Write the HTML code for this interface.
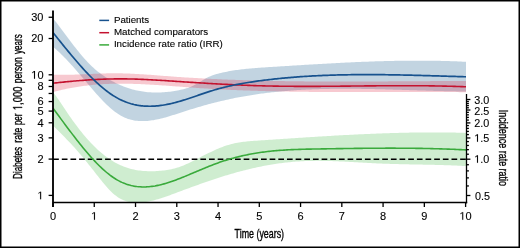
<!DOCTYPE html>
<html><head><meta charset="utf-8"><style>
html,body{margin:0;padding:0;background:#fff;}
body{width:520px;height:248px;overflow:hidden;font-family:"Liberation Sans",sans-serif;}
svg{display:block;will-change:transform;}
</style></head><body>
<svg width="520" height="248" viewBox="0 0 520 248" xmlns="http://www.w3.org/2000/svg">
<defs><clipPath id="pc"><rect x="53" y="8" width="413" height="194.6"/></clipPath></defs><rect x="0.75" y="0.75" width="518.5" height="246.5" fill="none" stroke="#000" stroke-width="1.5"/><g clip-path="url(#pc)"><path d="M53.00,18.29L54.50,20.17L56.00,22.09L57.50,24.06L59.00,26.05L60.50,28.07L62.00,30.08L63.50,32.09L65.00,34.10L66.50,36.10L68.00,38.09L69.50,40.07L71.00,42.04L72.50,43.99L74.00,45.92L75.50,47.84L77.00,49.73L78.50,51.60L80.00,53.43L81.50,55.23L83.00,56.99L84.50,58.70L86.00,60.37L87.50,61.99L89.00,63.54L90.50,65.04L92.00,66.48L93.50,67.86L95.00,69.18L96.50,70.45L98.00,71.67L99.50,72.84L101.00,73.97L102.50,75.05L104.00,76.09L105.50,77.09L107.00,78.06L108.50,78.99L110.00,79.88L111.50,80.74L113.00,81.57L114.50,82.36L116.00,83.13L117.50,83.85L119.00,84.55L120.50,85.21L122.00,85.85L123.50,86.45L125.00,87.02L126.50,87.56L128.00,88.07L129.50,88.55L131.00,89.00L132.50,89.42L134.00,89.82L135.50,90.18L137.00,90.52L138.50,90.83L140.00,91.11L141.50,91.36L143.00,91.59L144.50,91.80L146.00,91.97L147.50,92.13L149.00,92.25L150.50,92.36L152.00,92.44L153.50,92.49L155.00,92.52L156.50,92.53L158.00,92.52L159.50,92.48L161.00,92.42L162.50,92.34L164.00,92.24L165.50,92.12L167.00,91.98L168.50,91.81L170.00,91.63L171.50,91.43L173.00,91.21L174.50,90.97L176.00,90.71L177.50,90.44L179.00,90.15L180.50,89.84L182.00,89.51L183.50,89.16L185.00,88.78L186.50,88.36L188.00,87.89L189.50,87.36L191.00,86.76L192.50,86.09L194.00,85.36L195.50,84.56L197.00,83.72L198.50,82.84L200.00,81.93L201.50,81.01L203.00,80.09L204.50,79.19L206.00,78.33L207.50,77.52L209.00,76.79L210.50,76.13L212.00,75.53L213.50,74.99L215.00,74.51L216.50,74.07L218.00,73.66L219.50,73.28L221.00,72.92L222.50,72.58L224.00,72.25L225.50,71.94L227.00,71.64L228.50,71.35L230.00,71.08L231.50,70.82L233.00,70.57L234.50,70.34L236.00,70.12L237.50,69.90L239.00,69.70L240.50,69.51L242.00,69.33L243.50,69.15L245.00,68.99L246.50,68.83L248.00,68.68L249.50,68.54L251.00,68.40L252.50,68.27L254.00,68.15L255.50,68.03L257.00,67.92L258.50,67.81L260.00,67.70L261.50,67.60L263.00,67.50L264.50,67.40L266.00,67.30L267.50,67.21L269.00,67.12L270.50,67.02L272.00,66.93L273.50,66.83L275.00,66.74L276.50,66.65L278.00,66.55L279.50,66.46L281.00,66.36L282.50,66.27L284.00,66.18L285.50,66.08L287.00,65.99L288.50,65.89L290.00,65.80L291.50,65.71L293.00,65.61L294.50,65.52L296.00,65.43L297.50,65.33L299.00,65.24L300.50,65.15L302.00,65.06L303.50,64.96L305.00,64.87L306.50,64.78L308.00,64.69L309.50,64.60L311.00,64.51L312.50,64.42L314.00,64.33L315.50,64.24L317.00,64.16L318.50,64.07L320.00,63.98L321.50,63.89L323.00,63.81L324.50,63.72L326.00,63.64L327.50,63.56L329.00,63.47L330.50,63.39L332.00,63.31L333.50,63.23L335.00,63.15L336.50,63.07L338.00,62.99L339.50,62.91L341.00,62.84L342.50,62.76L344.00,62.69L345.50,62.61L347.00,62.54L348.50,62.47L350.00,62.40L351.50,62.33L353.00,62.26L354.50,62.19L356.00,62.12L357.50,62.06L359.00,61.99L360.50,61.93L362.00,61.87L363.50,61.81L365.00,61.75L366.50,61.69L368.00,61.63L369.50,61.58L371.00,61.52L372.50,61.47L374.00,61.42L375.50,61.37L377.00,61.32L378.50,61.27L380.00,61.23L381.50,61.18L383.00,61.14L384.50,61.10L386.00,61.06L387.50,61.02L389.00,60.99L390.50,60.95L392.00,60.92L393.50,60.89L395.00,60.86L396.50,60.83L398.00,60.80L399.50,60.78L401.00,60.75L402.50,60.73L404.00,60.71L405.50,60.70L407.00,60.68L408.50,60.67L410.00,60.66L411.50,60.65L413.00,60.64L414.50,60.63L416.00,60.63L417.50,60.63L419.00,60.63L420.50,60.63L422.00,60.63L423.50,60.64L425.00,60.65L426.50,60.66L428.00,60.67L429.50,60.69L431.00,60.71L432.50,60.73L434.00,60.75L435.50,60.77L437.00,60.80L438.50,60.83L440.00,60.86L441.50,60.89L443.00,60.93L444.50,60.97L446.00,61.01L447.50,61.05L449.00,61.10L450.50,61.15L452.00,61.20L453.50,61.25L455.00,61.31L456.50,61.37L458.00,61.43L459.50,61.50L461.00,61.56L462.50,61.63L464.00,61.70L465.50,61.78L466.00,61.81L466.00,91.51L465.50,91.50L464.00,91.49L462.50,91.47L461.00,91.45L459.50,91.43L458.00,91.41L456.50,91.39L455.00,91.36L453.50,91.34L452.00,91.31L450.50,91.28L449.00,91.25L447.50,91.22L446.00,91.19L444.50,91.15L443.00,91.12L441.50,91.08L440.00,91.04L438.50,91.00L437.00,90.97L435.50,90.92L434.00,90.88L432.50,90.84L431.00,90.80L429.50,90.75L428.00,90.71L426.50,90.67L425.00,90.62L423.50,90.57L422.00,90.53L420.50,90.48L419.00,90.43L417.50,90.39L416.00,90.34L414.50,90.29L413.00,90.24L411.50,90.19L410.00,90.15L408.50,90.10L407.00,90.05L405.50,90.00L404.00,89.95L402.50,89.91L401.00,89.86L399.50,89.81L398.00,89.76L396.50,89.72L395.00,89.67L393.50,89.63L392.00,89.58L390.50,89.54L389.00,89.49L387.50,89.45L386.00,89.41L384.50,89.37L383.00,89.33L381.50,89.29L380.00,89.25L378.50,89.21L377.00,89.18L375.50,89.14L374.00,89.11L372.50,89.07L371.00,89.04L369.50,89.01L368.00,88.98L366.50,88.96L365.00,88.93L363.50,88.90L362.00,88.88L360.50,88.86L359.00,88.84L357.50,88.82L356.00,88.81L354.50,88.79L353.00,88.78L351.50,88.77L350.00,88.76L348.50,88.76L347.00,88.75L345.50,88.75L344.00,88.75L342.50,88.75L341.00,88.76L339.50,88.76L338.00,88.77L336.50,88.78L335.00,88.80L333.50,88.82L332.00,88.83L330.50,88.86L329.00,88.88L327.50,88.91L326.00,88.94L324.50,88.97L323.00,89.01L321.50,89.05L320.00,89.09L318.50,89.14L317.00,89.18L315.50,89.23L314.00,89.29L312.50,89.35L311.00,89.41L309.50,89.47L308.00,89.54L306.50,89.61L305.00,89.69L303.50,89.77L302.00,89.85L300.50,89.93L299.00,90.02L297.50,90.12L296.00,90.21L294.50,90.32L293.00,90.42L291.50,90.53L290.00,90.64L288.50,90.76L287.00,90.88L285.50,91.01L284.00,91.14L282.50,91.27L281.00,91.41L279.50,91.55L278.00,91.70L276.50,91.85L275.00,92.01L273.50,92.17L272.00,92.33L270.50,92.50L269.00,92.68L267.50,92.86L266.00,93.04L264.50,93.23L263.00,93.42L261.50,93.62L260.00,93.83L258.50,94.04L257.00,94.25L255.50,94.47L254.00,94.70L252.50,94.93L251.00,95.16L249.50,95.40L248.00,95.65L246.50,95.90L245.00,96.16L243.50,96.42L242.00,96.69L240.50,96.97L239.00,97.25L237.50,97.53L236.00,97.83L234.50,98.12L233.00,98.43L231.50,98.74L230.00,99.05L228.50,99.38L227.00,99.70L225.50,100.04L224.00,100.38L222.50,100.73L221.00,101.08L219.50,101.44L218.00,101.81L216.50,102.18L215.00,102.55L213.50,102.94L212.00,103.33L210.50,103.72L209.00,104.12L207.50,104.53L206.00,104.94L204.50,105.36L203.00,105.78L201.50,106.21L200.00,106.64L198.50,107.08L197.00,107.52L195.50,107.97L194.00,108.42L192.50,108.88L191.00,109.34L189.50,109.81L188.00,110.28L186.50,110.75L185.00,111.23L183.50,111.71L182.00,112.20L180.50,112.69L179.00,113.18L177.50,113.67L176.00,114.16L174.50,114.64L173.00,115.12L171.50,115.59L170.00,116.06L168.50,116.51L167.00,116.95L165.50,117.38L164.00,117.79L162.50,118.19L161.00,118.57L159.50,118.92L158.00,119.26L156.50,119.58L155.00,119.87L153.50,120.13L152.00,120.37L150.50,120.58L149.00,120.75L147.50,120.90L146.00,121.01L144.50,121.08L143.00,121.12L141.50,121.12L140.00,121.07L138.50,120.98L137.00,120.84L135.50,120.66L134.00,120.42L132.50,120.12L131.00,119.77L129.50,119.36L128.00,118.89L126.50,118.34L125.00,117.74L123.50,117.06L122.00,116.30L120.50,115.48L119.00,114.57L117.50,113.59L116.00,112.53L114.50,111.41L113.00,110.22L111.50,108.96L110.00,107.66L108.50,106.29L107.00,104.88L105.50,103.42L104.00,101.92L102.50,100.38L101.00,98.80L99.50,97.19L98.00,95.56L96.50,93.90L95.00,92.22L93.50,90.51L92.00,88.79L90.50,87.06L89.00,85.31L87.50,83.56L86.00,81.80L84.50,80.03L83.00,78.27L81.50,76.50L80.00,74.74L78.50,72.99L77.00,71.24L75.50,69.51L74.00,67.80L72.50,66.10L71.00,64.42L69.50,62.76L68.00,61.13L66.50,59.53L65.00,57.96L63.50,56.42L62.00,54.92L60.50,53.46L59.00,52.04L57.50,50.66L56.00,49.33L54.50,48.05L53.00,46.83Z" fill="rgba(20,90,140,0.26)"/><path d="M53.00,74.63L54.50,74.69L56.00,74.74L57.50,74.78L59.00,74.80L60.50,74.82L62.00,74.83L63.50,74.83L65.00,74.83L66.50,74.81L68.00,74.79L69.50,74.77L71.00,74.73L72.50,74.69L74.00,74.65L75.50,74.60L77.00,74.55L78.50,74.49L80.00,74.43L81.50,74.37L83.00,74.30L84.50,74.24L86.00,74.17L87.50,74.10L89.00,74.03L90.50,73.96L92.00,73.89L93.50,73.83L95.00,73.76L96.50,73.70L98.00,73.64L99.50,73.58L101.00,73.52L102.50,73.47L104.00,73.43L105.50,73.39L107.00,73.35L108.50,73.32L110.00,73.30L111.50,73.28L113.00,73.28L114.50,73.27L116.00,73.28L117.50,73.29L119.00,73.31L120.50,73.34L122.00,73.37L123.50,73.41L125.00,73.45L126.50,73.50L128.00,73.56L129.50,73.62L131.00,73.69L132.50,73.75L134.00,73.83L135.50,73.91L137.00,73.99L138.50,74.08L140.00,74.17L141.50,74.26L143.00,74.35L144.50,74.45L146.00,74.56L147.50,74.66L149.00,74.77L150.50,74.87L152.00,74.98L153.50,75.09L155.00,75.21L156.50,75.32L158.00,75.43L159.50,75.55L161.00,75.66L162.50,75.78L164.00,75.89L165.50,76.01L167.00,76.12L168.50,76.23L170.00,76.35L171.50,76.46L173.00,76.57L174.50,76.67L176.00,76.78L177.50,76.88L179.00,76.99L180.50,77.09L182.00,77.19L183.50,77.29L185.00,77.39L186.50,77.48L188.00,77.58L189.50,77.67L191.00,77.76L192.50,77.85L194.00,77.94L195.50,78.03L197.00,78.12L198.50,78.20L200.00,78.28L201.50,78.37L203.00,78.45L204.50,78.53L206.00,78.61L207.50,78.68L209.00,78.76L210.50,78.83L212.00,78.91L213.50,78.98L215.00,79.05L216.50,79.12L218.00,79.19L219.50,79.25L221.00,79.32L222.50,79.38L224.00,79.45L225.50,79.51L227.00,79.57L228.50,79.63L230.00,79.69L231.50,79.75L233.00,79.80L234.50,79.86L236.00,79.91L237.50,79.97L239.00,80.02L240.50,80.07L242.00,80.12L243.50,80.17L245.00,80.22L246.50,80.26L248.00,80.31L249.50,80.35L251.00,80.40L252.50,80.44L254.00,80.48L255.50,80.52L257.00,80.56L258.50,80.60L260.00,80.64L261.50,80.68L263.00,80.71L264.50,80.75L266.00,80.78L267.50,80.82L269.00,80.85L270.50,80.88L272.00,80.91L273.50,80.94L275.00,80.97L276.50,81.00L278.00,81.02L279.50,81.05L281.00,81.08L282.50,81.10L284.00,81.12L285.50,81.15L287.00,81.17L288.50,81.19L290.00,81.21L291.50,81.23L293.00,81.25L294.50,81.27L296.00,81.29L297.50,81.30L299.00,81.32L300.50,81.34L302.00,81.35L303.50,81.37L305.00,81.38L306.50,81.39L308.00,81.41L309.50,81.42L311.00,81.43L312.50,81.44L314.00,81.45L315.50,81.46L317.00,81.47L318.50,81.47L320.00,81.48L321.50,81.49L323.00,81.50L324.50,81.50L326.00,81.51L327.50,81.51L329.00,81.52L330.50,81.52L332.00,81.52L333.50,81.53L335.00,81.53L336.50,81.53L338.00,81.53L339.50,81.53L341.00,81.53L342.50,81.53L344.00,81.53L345.50,81.53L347.00,81.53L348.50,81.53L350.00,81.53L351.50,81.52L353.00,81.52L354.50,81.52L356.00,81.51L357.50,81.51L359.00,81.51L360.50,81.50L362.00,81.50L363.50,81.49L365.00,81.49L366.50,81.48L368.00,81.48L369.50,81.47L371.00,81.46L372.50,81.46L374.00,81.45L375.50,81.44L377.00,81.44L378.50,81.43L380.00,81.42L381.50,81.41L383.00,81.41L384.50,81.40L386.00,81.39L387.50,81.38L389.00,81.37L390.50,81.36L392.00,81.36L393.50,81.35L395.00,81.34L396.50,81.33L398.00,81.32L399.50,81.31L401.00,81.30L402.50,81.29L404.00,81.28L405.50,81.27L407.00,81.26L408.50,81.26L410.00,81.25L411.50,81.24L413.00,81.23L414.50,81.22L416.00,81.21L417.50,81.20L419.00,81.19L420.50,81.18L422.00,81.17L423.50,81.16L425.00,81.16L426.50,81.15L428.00,81.14L429.50,81.13L431.00,81.12L432.50,81.11L434.00,81.11L435.50,81.10L437.00,81.09L438.50,81.08L440.00,81.08L441.50,81.07L443.00,81.06L444.50,81.06L446.00,81.05L447.50,81.04L449.00,81.04L450.50,81.03L452.00,81.03L453.50,81.02L455.00,81.02L456.50,81.01L458.00,81.01L459.50,81.00L461.00,81.00L462.50,81.00L464.00,80.99L465.50,80.99L466.00,80.99L466.00,92.19L465.50,92.18L464.00,92.17L462.50,92.16L461.00,92.14L459.50,92.13L458.00,92.12L456.50,92.11L455.00,92.09L453.50,92.08L452.00,92.07L450.50,92.07L449.00,92.06L447.50,92.05L446.00,92.04L444.50,92.03L443.00,92.03L441.50,92.02L440.00,92.02L438.50,92.01L437.00,92.01L435.50,92.00L434.00,92.00L432.50,91.99L431.00,91.99L429.50,91.99L428.00,91.99L426.50,91.99L425.00,91.98L423.50,91.98L422.00,91.98L420.50,91.98L419.00,91.98L417.50,91.98L416.00,91.98L414.50,91.98L413.00,91.98L411.50,91.99L410.00,91.99L408.50,91.99L407.00,91.99L405.50,91.99L404.00,91.99L402.50,92.00L401.00,92.00L399.50,92.00L398.00,92.00L396.50,92.01L395.00,92.01L393.50,92.01L392.00,92.02L390.50,92.02L389.00,92.02L387.50,92.03L386.00,92.03L384.50,92.03L383.00,92.04L381.50,92.04L380.00,92.04L378.50,92.04L377.00,92.05L375.50,92.05L374.00,92.05L372.50,92.06L371.00,92.06L369.50,92.06L368.00,92.06L366.50,92.06L365.00,92.07L363.50,92.07L362.00,92.07L360.50,92.07L359.00,92.07L357.50,92.07L356.00,92.07L354.50,92.07L353.00,92.07L351.50,92.07L350.00,92.07L348.50,92.07L347.00,92.07L345.50,92.07L344.00,92.07L342.50,92.06L341.00,92.06L339.50,92.06L338.00,92.05L336.50,92.05L335.00,92.04L333.50,92.04L332.00,92.03L330.50,92.03L329.00,92.02L327.50,92.02L326.00,92.01L324.50,92.00L323.00,91.99L321.50,91.98L320.00,91.97L318.50,91.96L317.00,91.95L315.50,91.94L314.00,91.93L312.50,91.91L311.00,91.90L309.50,91.89L308.00,91.87L306.50,91.86L305.00,91.84L303.50,91.82L302.00,91.81L300.50,91.79L299.00,91.77L297.50,91.75L296.00,91.73L294.50,91.71L293.00,91.68L291.50,91.66L290.00,91.64L288.50,91.61L287.00,91.59L285.50,91.56L284.00,91.53L282.50,91.50L281.00,91.47L279.50,91.44L278.00,91.41L276.50,91.38L275.00,91.35L273.50,91.31L272.00,91.28L270.50,91.24L269.00,91.20L267.50,91.16L266.00,91.13L264.50,91.08L263.00,91.04L261.50,91.00L260.00,90.96L258.50,90.91L257.00,90.87L255.50,90.82L254.00,90.77L252.50,90.72L251.00,90.67L249.50,90.62L248.00,90.56L246.50,90.51L245.00,90.45L243.50,90.40L242.00,90.34L240.50,90.28L239.00,90.22L237.50,90.16L236.00,90.09L234.50,90.03L233.00,89.96L231.50,89.90L230.00,89.83L228.50,89.76L227.00,89.69L225.50,89.61L224.00,89.54L222.50,89.46L221.00,89.39L219.50,89.31L218.00,89.23L216.50,89.14L215.00,89.06L213.50,88.98L212.00,88.89L210.50,88.80L209.00,88.71L207.50,88.62L206.00,88.53L204.50,88.43L203.00,88.34L201.50,88.24L200.00,88.14L198.50,88.04L197.00,87.94L195.50,87.83L194.00,87.73L192.50,87.62L191.00,87.51L189.50,87.40L188.00,87.29L186.50,87.18L185.00,87.07L183.50,86.96L182.00,86.84L180.50,86.73L179.00,86.61L177.50,86.50L176.00,86.39L174.50,86.27L173.00,86.16L171.50,86.05L170.00,85.94L168.50,85.83L167.00,85.72L165.50,85.61L164.00,85.50L162.50,85.40L161.00,85.29L159.50,85.19L158.00,85.09L156.50,85.00L155.00,84.90L153.50,84.81L152.00,84.72L150.50,84.63L149.00,84.55L147.50,84.46L146.00,84.39L144.50,84.31L143.00,84.24L141.50,84.17L140.00,84.11L138.50,84.05L137.00,83.99L135.50,83.94L134.00,83.89L132.50,83.85L131.00,83.81L129.50,83.78L128.00,83.75L126.50,83.73L125.00,83.71L123.50,83.70L122.00,83.70L120.50,83.70L119.00,83.70L117.50,83.71L116.00,83.73L114.50,83.76L113.00,83.79L111.50,83.82L110.00,83.87L108.50,83.92L107.00,83.98L105.50,84.04L104.00,84.12L102.50,84.20L101.00,84.29L99.50,84.38L98.00,84.49L96.50,84.60L95.00,84.72L93.50,84.85L92.00,84.99L90.50,85.14L89.00,85.30L87.50,85.46L86.00,85.64L84.50,85.82L83.00,86.01L81.50,86.22L80.00,86.43L78.50,86.66L77.00,86.89L75.50,87.13L74.00,87.39L72.50,87.65L71.00,87.93L69.50,88.22L68.00,88.51L66.50,88.82L65.00,89.14L63.50,89.48L62.00,89.82L60.50,90.18L59.00,90.54L57.50,90.92L56.00,91.32L54.50,91.72L53.00,92.14Z" fill="rgba(220,30,60,0.24)"/><path d="M53.00,92.26L54.50,94.11L56.00,96.09L57.50,98.17L59.00,100.32L60.50,102.54L62.00,104.78L63.50,107.04L65.00,109.29L66.50,111.52L68.00,113.74L69.50,115.93L71.00,118.09L72.50,120.21L74.00,122.29L75.50,124.34L77.00,126.34L78.50,128.30L80.00,130.22L81.50,132.09L83.00,133.93L84.50,135.72L86.00,137.47L87.50,139.18L89.00,140.84L90.50,142.46L92.00,144.03L93.50,145.56L95.00,147.05L96.50,148.49L98.00,149.89L99.50,151.24L101.00,152.54L102.50,153.80L104.00,155.02L105.50,156.18L107.00,157.30L108.50,158.37L110.00,159.40L111.50,160.37L113.00,161.30L114.50,162.18L116.00,163.01L117.50,163.79L119.00,164.53L120.50,165.22L122.00,165.87L123.50,166.47L125.00,167.03L126.50,167.56L128.00,168.04L129.50,168.48L131.00,168.89L132.50,169.26L134.00,169.59L135.50,169.89L137.00,170.16L138.50,170.39L140.00,170.59L141.50,170.76L143.00,170.91L144.50,171.02L146.00,171.11L147.50,171.17L149.00,171.21L150.50,171.22L152.00,171.22L153.50,171.19L155.00,171.14L156.50,171.07L158.00,170.98L159.50,170.87L161.00,170.75L162.50,170.60L164.00,170.43L165.50,170.24L167.00,170.02L168.50,169.78L170.00,169.50L171.50,169.20L173.00,168.85L174.50,168.48L176.00,168.07L177.50,167.62L179.00,167.13L180.50,166.59L182.00,166.02L183.50,165.41L185.00,164.76L186.50,164.09L188.00,163.39L189.50,162.67L191.00,161.93L192.50,161.19L194.00,160.43L195.50,159.67L197.00,158.91L198.50,158.15L200.00,157.38L201.50,156.61L203.00,155.85L204.50,155.09L206.00,154.34L207.50,153.59L209.00,152.86L210.50,152.13L212.00,151.42L213.50,150.72L215.00,150.04L216.50,149.37L218.00,148.72L219.50,148.10L221.00,147.50L222.50,146.92L224.00,146.36L225.50,145.84L227.00,145.34L228.50,144.88L230.00,144.45L231.50,144.05L233.00,143.68L234.50,143.34L236.00,143.03L237.50,142.75L239.00,142.49L240.50,142.26L242.00,142.04L243.50,141.84L245.00,141.67L246.50,141.50L248.00,141.36L249.50,141.22L251.00,141.09L252.50,140.98L254.00,140.86L255.50,140.76L257.00,140.66L258.50,140.56L260.00,140.46L261.50,140.36L263.00,140.26L264.50,140.16L266.00,140.05L267.50,139.95L269.00,139.85L270.50,139.75L272.00,139.65L273.50,139.55L275.00,139.45L276.50,139.35L278.00,139.25L279.50,139.15L281.00,139.05L282.50,138.94L284.00,138.84L285.50,138.74L287.00,138.64L288.50,138.54L290.00,138.44L291.50,138.34L293.00,138.24L294.50,138.15L296.00,138.05L297.50,137.95L299.00,137.85L300.50,137.75L302.00,137.65L303.50,137.56L305.00,137.46L306.50,137.36L308.00,137.27L309.50,137.17L311.00,137.07L312.50,136.98L314.00,136.88L315.50,136.79L317.00,136.70L318.50,136.60L320.00,136.51L321.50,136.42L323.00,136.33L324.50,136.24L326.00,136.15L327.50,136.06L329.00,135.97L330.50,135.88L332.00,135.79L333.50,135.71L335.00,135.62L336.50,135.54L338.00,135.45L339.50,135.37L341.00,135.28L342.50,135.20L344.00,135.12L345.50,135.04L347.00,134.96L348.50,134.88L350.00,134.80L351.50,134.73L353.00,134.65L354.50,134.57L356.00,134.50L357.50,134.43L359.00,134.35L360.50,134.28L362.00,134.21L363.50,134.14L365.00,134.08L366.50,134.01L368.00,133.94L369.50,133.88L371.00,133.82L372.50,133.75L374.00,133.69L375.50,133.63L377.00,133.57L378.50,133.51L380.00,133.46L381.50,133.40L383.00,133.35L384.50,133.30L386.00,133.25L387.50,133.20L389.00,133.15L390.50,133.10L392.00,133.05L393.50,133.01L395.00,132.97L396.50,132.93L398.00,132.89L399.50,132.85L401.00,132.81L402.50,132.77L404.00,132.74L405.50,132.71L407.00,132.68L408.50,132.65L410.00,132.62L411.50,132.59L413.00,132.57L414.50,132.55L416.00,132.53L417.50,132.51L419.00,132.49L420.50,132.47L422.00,132.46L423.50,132.45L425.00,132.44L426.50,132.43L428.00,132.42L429.50,132.41L431.00,132.41L432.50,132.41L434.00,132.41L435.50,132.41L437.00,132.42L438.50,132.42L440.00,132.43L441.50,132.44L443.00,132.45L444.50,132.47L446.00,132.48L447.50,132.50L449.00,132.52L450.50,132.54L452.00,132.57L453.50,132.59L455.00,132.62L456.50,132.65L458.00,132.69L459.50,132.72L461.00,132.76L462.50,132.80L464.00,132.84L465.50,132.88L466.00,132.90L466.00,166.10L465.50,166.07L464.00,165.98L462.50,165.90L461.00,165.82L459.50,165.74L458.00,165.66L456.50,165.59L455.00,165.53L453.50,165.46L452.00,165.40L450.50,165.34L449.00,165.29L447.50,165.23L446.00,165.18L444.50,165.13L443.00,165.09L441.50,165.04L440.00,165.00L438.50,164.96L437.00,164.92L435.50,164.88L434.00,164.85L432.50,164.81L431.00,164.78L429.50,164.75L428.00,164.72L426.50,164.69L425.00,164.66L423.50,164.63L422.00,164.60L420.50,164.57L419.00,164.55L417.50,164.52L416.00,164.49L414.50,164.46L413.00,164.44L411.50,164.41L410.00,164.38L408.50,164.35L407.00,164.32L405.50,164.29L404.00,164.26L402.50,164.23L401.00,164.19L399.50,164.16L398.00,164.12L396.50,164.08L395.00,164.04L393.50,164.00L392.00,163.96L390.50,163.91L389.00,163.86L387.50,163.81L386.00,163.76L384.50,163.71L383.00,163.65L381.50,163.59L380.00,163.52L378.50,163.46L377.00,163.39L375.50,163.32L374.00,163.24L372.50,163.17L371.00,163.09L369.50,163.01L368.00,162.93L366.50,162.85L365.00,162.76L363.50,162.68L362.00,162.59L360.50,162.51L359.00,162.42L357.50,162.34L356.00,162.25L354.50,162.17L353.00,162.08L351.50,162.00L350.00,161.92L348.50,161.84L347.00,161.76L345.50,161.68L344.00,161.61L342.50,161.53L341.00,161.46L339.50,161.40L338.00,161.33L336.50,161.27L335.00,161.21L333.50,161.16L332.00,161.11L330.50,161.06L329.00,161.02L327.50,160.98L326.00,160.95L324.50,160.92L323.00,160.90L321.50,160.88L320.00,160.87L318.50,160.87L317.00,160.87L315.50,160.87L314.00,160.88L312.50,160.90L311.00,160.93L309.50,160.96L308.00,161.00L306.50,161.05L305.00,161.11L303.50,161.17L302.00,161.25L300.50,161.33L299.00,161.42L297.50,161.52L296.00,161.62L294.50,161.74L293.00,161.86L291.50,162.00L290.00,162.14L288.50,162.29L287.00,162.45L285.50,162.61L284.00,162.79L282.50,162.97L281.00,163.17L279.50,163.37L278.00,163.57L276.50,163.79L275.00,164.01L273.50,164.25L272.00,164.49L270.50,164.74L269.00,164.99L267.50,165.26L266.00,165.53L264.50,165.81L263.00,166.10L261.50,166.39L260.00,166.70L258.50,167.01L257.00,167.33L255.50,167.65L254.00,167.99L252.50,168.33L251.00,168.67L249.50,169.03L248.00,169.39L246.50,169.76L245.00,170.14L243.50,170.52L242.00,170.91L240.50,171.30L239.00,171.70L237.50,172.11L236.00,172.53L234.50,172.95L233.00,173.38L231.50,173.81L230.00,174.25L228.50,174.69L227.00,175.14L225.50,175.60L224.00,176.06L222.50,176.53L221.00,177.00L219.50,177.48L218.00,177.96L216.50,178.45L215.00,178.94L213.50,179.44L212.00,179.94L210.50,180.45L209.00,180.96L207.50,181.48L206.00,181.99L204.50,182.52L203.00,183.04L201.50,183.57L200.00,184.10L198.50,184.64L197.00,185.18L195.50,185.72L194.00,186.26L192.50,186.81L191.00,187.36L189.50,187.91L188.00,188.46L186.50,189.01L185.00,189.57L183.50,190.12L182.00,190.68L180.50,191.24L179.00,191.80L177.50,192.36L176.00,192.92L174.50,193.48L173.00,194.03L171.50,194.59L170.00,195.14L168.50,195.68L167.00,196.21L165.50,196.74L164.00,197.25L162.50,197.75L161.00,198.24L159.50,198.71L158.00,199.16L156.50,199.59L155.00,200.00L153.50,200.39L152.00,200.76L150.50,201.10L149.00,201.41L147.50,201.69L146.00,201.95L144.50,202.17L143.00,202.36L141.50,202.51L140.00,202.63L138.50,202.71L137.00,202.74L135.50,202.73L134.00,202.66L132.50,202.54L131.00,202.35L129.50,202.09L128.00,201.76L126.50,201.35L125.00,200.86L123.50,200.27L122.00,199.60L120.50,198.82L119.00,197.95L117.50,196.96L116.00,195.87L114.50,194.68L113.00,193.39L111.50,192.00L110.00,190.51L108.50,188.93L107.00,187.28L105.50,185.55L104.00,183.78L102.50,181.95L101.00,180.09L99.50,178.20L98.00,176.30L96.50,174.38L95.00,172.47L93.50,170.57L92.00,168.67L90.50,166.78L89.00,164.90L87.50,163.04L86.00,161.18L84.50,159.35L83.00,157.53L81.50,155.73L80.00,153.96L78.50,152.20L77.00,150.48L75.50,148.78L74.00,147.10L72.50,145.46L71.00,143.85L69.50,142.26L68.00,140.69L66.50,139.14L65.00,137.61L63.50,136.08L62.00,134.57L60.50,133.06L59.00,131.55L57.50,130.04L56.00,128.53L54.50,127.01L53.00,125.48Z" fill="rgba(70,185,75,0.26)"/><line x1="53.14" y1="159.3" x2="466" y2="159.3" stroke="#000" stroke-width="1.5" stroke-dasharray="5.7 2.96"/><path d="M53.00,83.21L54.50,83.04L56.00,82.88L57.50,82.71L59.00,82.55L60.50,82.39L62.00,82.23L63.50,82.08L65.00,81.92L66.50,81.77L68.00,81.63L69.50,81.48L71.00,81.34L72.50,81.20L74.00,81.07L75.50,80.94L77.00,80.81L78.50,80.68L80.00,80.56L81.50,80.44L83.00,80.33L84.50,80.22L86.00,80.11L87.50,80.01L89.00,79.91L90.50,79.81L92.00,79.72L93.50,79.64L95.00,79.56L96.50,79.48L98.00,79.40L99.50,79.34L101.00,79.27L102.50,79.21L104.00,79.16L105.50,79.11L107.00,79.06L108.50,79.02L110.00,78.99L111.50,78.96L113.00,78.93L114.50,78.91L116.00,78.89L117.50,78.88L119.00,78.87L120.50,78.87L122.00,78.87L123.50,78.88L125.00,78.89L126.50,78.91L128.00,78.93L129.50,78.96L131.00,78.99L132.50,79.03L134.00,79.07L135.50,79.11L137.00,79.16L138.50,79.21L140.00,79.27L141.50,79.33L143.00,79.40L144.50,79.47L146.00,79.54L147.50,79.61L149.00,79.69L150.50,79.77L152.00,79.85L153.50,79.93L155.00,80.02L156.50,80.11L158.00,80.20L159.50,80.29L161.00,80.38L162.50,80.48L164.00,80.57L165.50,80.67L167.00,80.77L168.50,80.87L170.00,80.96L171.50,81.06L173.00,81.16L174.50,81.26L176.00,81.36L177.50,81.45L179.00,81.55L180.50,81.65L182.00,81.75L183.50,81.84L185.00,81.94L186.50,82.04L188.00,82.13L189.50,82.23L191.00,82.33L192.50,82.42L194.00,82.52L195.50,82.61L197.00,82.70L198.50,82.80L200.00,82.89L201.50,82.98L203.00,83.07L204.50,83.16L206.00,83.25L207.50,83.34L209.00,83.43L210.50,83.52L212.00,83.61L213.50,83.69L215.00,83.78L216.50,83.86L218.00,83.95L219.50,84.03L221.00,84.11L222.50,84.19L224.00,84.27L225.50,84.35L227.00,84.42L228.50,84.50L230.00,84.57L231.50,84.65L233.00,84.72L234.50,84.79L236.00,84.86L237.50,84.93L239.00,85.00L240.50,85.06L242.00,85.12L243.50,85.19L245.00,85.25L246.50,85.31L248.00,85.37L249.50,85.42L251.00,85.48L252.50,85.53L254.00,85.58L255.50,85.63L257.00,85.68L258.50,85.72L260.00,85.77L261.50,85.81L263.00,85.85L264.50,85.89L266.00,85.93L267.50,85.96L269.00,86.00L270.50,86.03L272.00,86.06L273.50,86.09L275.00,86.11L276.50,86.14L278.00,86.16L279.50,86.18L281.00,86.21L282.50,86.23L284.00,86.24L285.50,86.26L287.00,86.28L288.50,86.29L290.00,86.30L291.50,86.31L293.00,86.32L294.50,86.33L296.00,86.34L297.50,86.35L299.00,86.35L300.50,86.36L302.00,86.36L303.50,86.36L305.00,86.36L306.50,86.36L308.00,86.36L309.50,86.36L311.00,86.36L312.50,86.36L314.00,86.35L315.50,86.35L317.00,86.34L318.50,86.34L320.00,86.33L321.50,86.32L323.00,86.31L324.50,86.30L326.00,86.29L327.50,86.28L329.00,86.27L330.50,86.26L332.00,86.25L333.50,86.24L335.00,86.22L336.50,86.21L338.00,86.20L339.50,86.18L341.00,86.17L342.50,86.15L344.00,86.14L345.50,86.13L347.00,86.11L348.50,86.09L350.00,86.08L351.50,86.06L353.00,86.05L354.50,86.03L356.00,86.02L357.50,86.00L359.00,85.99L360.50,85.97L362.00,85.96L363.50,85.94L365.00,85.92L366.50,85.91L368.00,85.90L369.50,85.88L371.00,85.87L372.50,85.85L374.00,85.84L375.50,85.83L377.00,85.81L378.50,85.80L380.00,85.79L381.50,85.78L383.00,85.77L384.50,85.76L386.00,85.75L387.50,85.74L389.00,85.73L390.50,85.72L392.00,85.71L393.50,85.71L395.00,85.70L396.50,85.70L398.00,85.69L399.50,85.69L401.00,85.68L402.50,85.68L404.00,85.68L405.50,85.68L407.00,85.68L408.50,85.69L410.00,85.69L411.50,85.69L413.00,85.70L414.50,85.70L416.00,85.71L417.50,85.72L419.00,85.73L420.50,85.74L422.00,85.75L423.50,85.77L425.00,85.78L426.50,85.80L428.00,85.82L429.50,85.84L431.00,85.86L432.50,85.88L434.00,85.90L435.50,85.93L437.00,85.95L438.50,85.98L440.00,86.01L441.50,86.04L443.00,86.08L444.50,86.11L446.00,86.15L447.50,86.19L449.00,86.23L450.50,86.27L452.00,86.31L453.50,86.36L455.00,86.40L456.50,86.45L458.00,86.51L459.50,86.56L461.00,86.61L462.50,86.67L464.00,86.73L465.50,86.79L466.00,86.81" fill="none" stroke="#c4122f" stroke-width="1.6"/><path d="M53.00,108.28L54.50,110.29L56.00,112.30L57.50,114.32L59.00,116.34L60.50,118.36L62.00,120.38L63.50,122.39L65.00,124.41L66.50,126.42L68.00,128.42L69.50,130.41L71.00,132.39L72.50,134.36L74.00,136.32L75.50,138.26L77.00,140.19L78.50,142.10L80.00,143.99L81.50,145.85L83.00,147.70L84.50,149.51L86.00,151.31L87.50,153.07L89.00,154.81L90.50,156.51L92.00,158.18L93.50,159.82L95.00,161.42L96.50,162.99L98.00,164.51L99.50,166.00L101.00,167.44L102.50,168.84L104.00,170.20L105.50,171.50L107.00,172.76L108.50,173.97L110.00,175.13L111.50,176.23L113.00,177.28L114.50,178.27L116.00,179.21L117.50,180.08L119.00,180.90L120.50,181.66L122.00,182.36L123.50,183.01L125.00,183.60L126.50,184.14L128.00,184.63L129.50,185.07L131.00,185.46L132.50,185.80L134.00,186.09L135.50,186.34L137.00,186.55L138.50,186.71L140.00,186.82L141.50,186.90L143.00,186.94L144.50,186.94L146.00,186.90L147.50,186.82L149.00,186.71L150.50,186.56L152.00,186.38L153.50,186.17L155.00,185.93L156.50,185.65L158.00,185.35L159.50,185.03L161.00,184.67L162.50,184.29L164.00,183.89L165.50,183.46L167.00,183.01L168.50,182.55L170.00,182.06L171.50,181.55L173.00,181.03L174.50,180.49L176.00,179.94L177.50,179.37L179.00,178.79L180.50,178.20L182.00,177.60L183.50,176.99L185.00,176.37L186.50,175.75L188.00,175.12L189.50,174.48L191.00,173.85L192.50,173.21L194.00,172.57L195.50,171.93L197.00,171.29L198.50,170.65L200.00,170.02L201.50,169.39L203.00,168.76L204.50,168.14L206.00,167.53L207.50,166.92L209.00,166.32L210.50,165.72L212.00,165.14L213.50,164.56L215.00,164.00L216.50,163.44L218.00,162.90L219.50,162.37L221.00,161.85L222.50,161.34L224.00,160.85L225.50,160.37L227.00,159.91L228.50,159.45L230.00,159.01L231.50,158.58L233.00,158.16L234.50,157.76L236.00,157.36L237.50,156.98L239.00,156.61L240.50,156.25L242.00,155.90L243.50,155.57L245.00,155.24L246.50,154.92L248.00,154.62L249.50,154.32L251.00,154.04L252.50,153.77L254.00,153.50L255.50,153.25L257.00,153.00L258.50,152.77L260.00,152.54L261.50,152.33L263.00,152.12L264.50,151.92L266.00,151.73L267.50,151.55L269.00,151.38L270.50,151.22L272.00,151.06L273.50,150.91L275.00,150.77L276.50,150.64L278.00,150.51L279.50,150.40L281.00,150.28L282.50,150.18L284.00,150.08L285.50,149.99L287.00,149.90L288.50,149.82L290.00,149.74L291.50,149.67L293.00,149.60L294.50,149.54L296.00,149.48L297.50,149.43L299.00,149.38L300.50,149.33L302.00,149.29L303.50,149.25L305.00,149.21L306.50,149.17L308.00,149.14L309.50,149.11L311.00,149.08L312.50,149.05L314.00,149.03L315.50,149.00L317.00,148.98L318.50,148.95L320.00,148.93L321.50,148.90L323.00,148.88L324.50,148.86L326.00,148.83L327.50,148.81L329.00,148.78L330.50,148.76L332.00,148.74L333.50,148.71L335.00,148.69L336.50,148.67L338.00,148.64L339.50,148.62L341.00,148.60L342.50,148.58L344.00,148.56L345.50,148.54L347.00,148.51L348.50,148.49L350.00,148.47L351.50,148.45L353.00,148.44L354.50,148.42L356.00,148.40L357.50,148.38L359.00,148.36L360.50,148.35L362.00,148.33L363.50,148.32L365.00,148.30L366.50,148.29L368.00,148.27L369.50,148.26L371.00,148.25L372.50,148.24L374.00,148.23L375.50,148.22L377.00,148.21L378.50,148.20L380.00,148.19L381.50,148.19L383.00,148.18L384.50,148.18L386.00,148.17L387.50,148.17L389.00,148.17L390.50,148.17L392.00,148.17L393.50,148.17L395.00,148.17L396.50,148.18L398.00,148.18L399.50,148.19L401.00,148.19L402.50,148.20L404.00,148.21L405.50,148.22L407.00,148.23L408.50,148.25L410.00,148.26L411.50,148.27L413.00,148.29L414.50,148.31L416.00,148.33L417.50,148.35L419.00,148.37L420.50,148.40L422.00,148.42L423.50,148.45L425.00,148.48L426.50,148.50L428.00,148.54L429.50,148.57L431.00,148.60L432.50,148.64L434.00,148.68L435.50,148.72L437.00,148.76L438.50,148.80L440.00,148.84L441.50,148.89L443.00,148.94L444.50,148.99L446.00,149.04L447.50,149.09L449.00,149.14L450.50,149.20L452.00,149.26L453.50,149.32L455.00,149.38L456.50,149.45L458.00,149.51L459.50,149.58L461.00,149.65L462.50,149.72L464.00,149.80L465.50,149.87L466.00,149.90" fill="none" stroke="#3aaa3c" stroke-width="1.6"/><path d="M53.00,32.56L54.50,34.43L56.00,36.29L57.50,38.16L59.00,40.03L60.50,41.89L62.00,43.74L63.50,45.60L65.00,47.44L66.50,49.27L68.00,51.10L69.50,52.91L71.00,54.71L72.50,56.50L74.00,58.28L75.50,60.04L77.00,61.78L78.50,63.50L80.00,65.21L81.50,66.89L83.00,68.56L84.50,70.20L86.00,71.81L87.50,73.40L89.00,74.97L90.50,76.51L92.00,78.02L93.50,79.50L95.00,80.94L96.50,82.36L98.00,83.74L99.50,85.09L101.00,86.40L102.50,87.68L104.00,88.91L105.50,90.11L107.00,91.27L108.50,92.38L110.00,93.45L111.50,94.48L113.00,95.47L114.50,96.40L116.00,97.29L117.50,98.13L119.00,98.93L120.50,99.67L122.00,100.38L123.50,101.04L125.00,101.66L126.50,102.23L128.00,102.76L129.50,103.25L131.00,103.70L132.50,104.11L134.00,104.49L135.50,104.82L137.00,105.12L138.50,105.38L140.00,105.60L141.50,105.79L143.00,105.95L144.50,106.07L146.00,106.16L147.50,106.22L149.00,106.25L150.50,106.25L152.00,106.22L153.50,106.16L155.00,106.07L156.50,105.95L158.00,105.81L159.50,105.64L161.00,105.45L162.50,105.24L164.00,105.00L165.50,104.74L167.00,104.46L168.50,104.15L170.00,103.83L171.50,103.49L173.00,103.13L174.50,102.75L176.00,102.35L177.50,101.94L179.00,101.52L180.50,101.08L182.00,100.63L183.50,100.17L185.00,99.69L186.50,99.21L188.00,98.72L189.50,98.23L191.00,97.72L192.50,97.22L194.00,96.71L195.50,96.19L197.00,95.68L198.50,95.16L200.00,94.65L201.50,94.14L203.00,93.63L204.50,93.13L206.00,92.63L207.50,92.13L209.00,91.65L210.50,91.17L212.00,90.70L213.50,90.24L215.00,89.80L216.50,89.36L218.00,88.94L219.50,88.53L221.00,88.13L222.50,87.74L224.00,87.36L225.50,86.99L227.00,86.63L228.50,86.28L230.00,85.94L231.50,85.61L233.00,85.29L234.50,84.98L236.00,84.67L237.50,84.38L239.00,84.09L240.50,83.81L242.00,83.54L243.50,83.27L245.00,83.01L246.50,82.76L248.00,82.52L249.50,82.28L251.00,82.05L252.50,81.82L254.00,81.60L255.50,81.38L257.00,81.17L258.50,80.96L260.00,80.76L261.50,80.57L263.00,80.37L264.50,80.18L266.00,80.00L267.50,79.82L269.00,79.64L270.50,79.47L272.00,79.30L273.50,79.13L275.00,78.97L276.50,78.81L278.00,78.65L279.50,78.50L281.00,78.35L282.50,78.20L284.00,78.06L285.50,77.92L287.00,77.79L288.50,77.66L290.00,77.53L291.50,77.40L293.00,77.28L294.50,77.16L296.00,77.04L297.50,76.93L299.00,76.82L300.50,76.72L302.00,76.61L303.50,76.51L305.00,76.41L306.50,76.32L308.00,76.23L309.50,76.14L311.00,76.05L312.50,75.97L314.00,75.89L315.50,75.81L317.00,75.74L318.50,75.67L320.00,75.60L321.50,75.53L323.00,75.47L324.50,75.41L326.00,75.35L327.50,75.29L329.00,75.24L330.50,75.19L332.00,75.14L333.50,75.09L335.00,75.05L336.50,75.01L338.00,74.97L339.50,74.93L341.00,74.89L342.50,74.86L344.00,74.83L345.50,74.80L347.00,74.78L348.50,74.75L350.00,74.73L351.50,74.71L353.00,74.69L354.50,74.68L356.00,74.66L357.50,74.65L359.00,74.64L360.50,74.63L362.00,74.62L363.50,74.62L365.00,74.62L366.50,74.61L368.00,74.61L369.50,74.62L371.00,74.62L372.50,74.62L374.00,74.63L375.50,74.64L377.00,74.65L378.50,74.66L380.00,74.67L381.50,74.69L383.00,74.70L384.50,74.72L386.00,74.74L387.50,74.76L389.00,74.78L390.50,74.80L392.00,74.82L393.50,74.85L395.00,74.87L396.50,74.90L398.00,74.93L399.50,74.96L401.00,74.98L402.50,75.02L404.00,75.05L405.50,75.08L407.00,75.11L408.50,75.15L410.00,75.18L411.50,75.22L413.00,75.25L414.50,75.29L416.00,75.33L417.50,75.37L419.00,75.41L420.50,75.45L422.00,75.49L423.50,75.53L425.00,75.57L426.50,75.61L428.00,75.65L429.50,75.70L431.00,75.74L432.50,75.78L434.00,75.83L435.50,75.87L437.00,75.92L438.50,75.96L440.00,76.01L441.50,76.05L443.00,76.10L444.50,76.14L446.00,76.19L447.50,76.23L449.00,76.28L450.50,76.33L452.00,76.37L453.50,76.42L455.00,76.46L456.50,76.51L458.00,76.55L459.50,76.60L461.00,76.64L462.50,76.69L464.00,76.73L465.50,76.77L466.00,76.79" fill="none" stroke="#17528e" stroke-width="1.7"/></g><g stroke="#000" stroke-width="1.3" fill="none"><line x1="53.0" y1="10.6" x2="53.0" y2="207" stroke-width="1.85"/><line x1="53" y1="202.6" x2="467.2" y2="202.6" stroke-width="1.5"/><line x1="53.00" y1="202.6" x2="53.00" y2="207" /><line x1="94.26" y1="202.6" x2="94.26" y2="207" /><line x1="135.52" y1="202.6" x2="135.52" y2="207" /><line x1="176.78" y1="202.6" x2="176.78" y2="207" /><line x1="218.04" y1="202.6" x2="218.04" y2="207" /><line x1="259.30" y1="202.6" x2="259.30" y2="207" /><line x1="300.56" y1="202.6" x2="300.56" y2="207" /><line x1="341.82" y1="202.6" x2="341.82" y2="207" /><line x1="383.08" y1="202.6" x2="383.08" y2="207" /><line x1="424.34" y1="202.6" x2="424.34" y2="207" /><line x1="465.60" y1="202.6" x2="465.60" y2="207" /><line x1="48.6" y1="195.40" x2="53" y2="195.40" /><line x1="48.6" y1="159.10" x2="53" y2="159.10" /><line x1="48.6" y1="137.86" x2="53" y2="137.86" /><line x1="48.6" y1="122.79" x2="53" y2="122.79" /><line x1="48.6" y1="111.10" x2="53" y2="111.10" /><line x1="48.6" y1="101.55" x2="53" y2="101.55" /><line x1="48.6" y1="93.48" x2="53" y2="93.48" /><line x1="48.6" y1="86.49" x2="53" y2="86.49" /><line x1="48.6" y1="80.32" x2="53" y2="80.32" /><line x1="48.6" y1="74.80" x2="53" y2="74.80" /><line x1="48.6" y1="38.50" x2="53" y2="38.50" /><line x1="48.6" y1="17.26" x2="53" y2="17.26" /><line x1="466.5" y1="94" x2="466.5" y2="203.3" /><line x1="466.5" y1="195.50" x2="470.4" y2="195.50" /><line x1="466.5" y1="185.95" x2="468.9" y2="185.95" /><line x1="466.5" y1="177.88" x2="468.9" y2="177.88" /><line x1="466.5" y1="170.89" x2="468.9" y2="170.89" /><line x1="466.5" y1="164.72" x2="468.9" y2="164.72" /><line x1="466.5" y1="159.20" x2="470.4" y2="159.20" /><line x1="466.5" y1="154.21" x2="468.9" y2="154.21" /><line x1="466.5" y1="149.65" x2="468.9" y2="149.65" /><line x1="466.5" y1="145.46" x2="468.9" y2="145.46" /><line x1="466.5" y1="141.58" x2="468.9" y2="141.58" /><line x1="466.5" y1="137.96" x2="470.4" y2="137.96" /><line x1="466.5" y1="134.58" x2="468.9" y2="134.58" /><line x1="466.5" y1="131.41" x2="468.9" y2="131.41" /><line x1="466.5" y1="128.41" x2="468.9" y2="128.41" /><line x1="466.5" y1="125.58" x2="468.9" y2="125.58" /><line x1="466.5" y1="122.90" x2="470.4" y2="122.90" /><line x1="466.5" y1="120.08" x2="468.9" y2="120.08" /><line x1="466.5" y1="117.40" x2="468.9" y2="117.40" /><line x1="466.5" y1="114.83" x2="468.9" y2="114.83" /><line x1="466.5" y1="112.38" x2="468.9" y2="112.38" /><line x1="466.5" y1="110.02" x2="470.4" y2="110.02" /><line x1="466.5" y1="107.76" x2="468.9" y2="107.76" /><line x1="466.5" y1="105.58" x2="468.9" y2="105.58" /><line x1="466.5" y1="103.48" x2="468.9" y2="103.48" /><line x1="466.5" y1="101.46" x2="468.9" y2="101.46" /><line x1="466.5" y1="99.50" x2="470.4" y2="99.50" /></g><line x1="99.3" y1="20.4" x2="109.1" y2="20.4" stroke="#17528e" stroke-width="1.5"/><line x1="99.3" y1="32.7" x2="109.1" y2="32.7" stroke="#c4122f" stroke-width="1.5"/><line x1="99.3" y1="44.9" x2="109.1" y2="44.9" stroke="#3aaa3c" stroke-width="1.5"/><g font-family="Liberation Sans, sans-serif" fill="#000" stroke="#000" stroke-width="0.12"><text x="31.26" y="21.11" font-size="11">30</text><text x="31.26" y="42.35" font-size="11">20</text><path transform="translate(31.26,78.65) scale(0.005371,-0.005371)" d="M515,0V1237L197,1010V1180L530,1409H696V0Z" stroke-width="22.3"/><text x="37.38" y="78.65" font-size="11">0</text><text x="37.38" y="90.34" font-size="11">8</text><text x="37.38" y="105.40" font-size="11">6</text><text x="37.38" y="114.95" font-size="11">5</text><text x="37.38" y="126.64" font-size="11">4</text><text x="37.38" y="141.71" font-size="11">3</text><text x="37.38" y="162.95" font-size="11">2</text><path transform="translate(37.38,199.25) scale(0.005371,-0.005371)" d="M515,0V1237L197,1010V1180L530,1409H696V0Z" stroke-width="22.3"/><text x="49.94" y="219.70" font-size="11">0</text><path transform="translate(91.20,219.70) scale(0.005371,-0.005371)" d="M515,0V1237L197,1010V1180L530,1409H696V0Z" stroke-width="22.3"/><text x="132.46" y="219.70" font-size="11">2</text><text x="173.72" y="219.70" font-size="11">3</text><text x="214.98" y="219.70" font-size="11">4</text><text x="256.24" y="219.70" font-size="11">5</text><text x="297.50" y="219.70" font-size="11">6</text><text x="338.76" y="219.70" font-size="11">7</text><text x="380.02" y="219.70" font-size="11">8</text><text x="421.28" y="219.70" font-size="11">9</text><path transform="translate(459.48,219.70) scale(0.005371,-0.005371)" d="M515,0V1237L197,1010V1180L530,1409H696V0Z" stroke-width="22.3"/><text x="465.60" y="219.70" font-size="11">0</text><text x="474.30" y="104.15" font-size="10.8">3.0</text><text x="474.30" y="115.45" font-size="10.8">2.5</text><text x="474.30" y="127.35" font-size="10.8">2.0</text><path transform="translate(474.30,141.75) scale(0.005273,-0.005273)" d="M515,0V1237L197,1010V1180L530,1409H696V0Z" stroke-width="22.8"/><text x="480.31" y="141.75" font-size="10.8">.5</text><path transform="translate(474.30,162.75) scale(0.005273,-0.005273)" d="M515,0V1237L197,1010V1180L530,1409H696V0Z" stroke-width="22.8"/><text x="480.31" y="162.75" font-size="10.8">.0</text><text x="474.90" y="199.65" font-size="10.8">0.5</text><text x="113.9" y="23.0" font-size="9.75">Patients</text><text x="113.9" y="35.2" font-size="9.75">Matched comparators</text><text x="113.9" y="47.4" font-size="9.75">Incidence rate ratio (IRR)</text><text transform="translate(259.3,237.9) scale(0.74,1)" text-anchor="middle" font-size="12" stroke="#000" stroke-width="0.35">Time (years)</text><g transform="translate(22.1,178.96) rotate(-90) scale(0.6246,1)" stroke="#000" stroke-width="0.35"><text x="0.00" y="0.00" font-size="13">Diabetes</text></g><g transform="translate(22.1,142.78) rotate(-90) scale(0.6772,1)" stroke="#000" stroke-width="0.35"><text x="0.00" y="0.00" font-size="13">rate</text></g><g transform="translate(22.1,125.11) rotate(-90) scale(0.6197,1)" stroke="#000" stroke-width="0.35"><text x="0.00" y="0.00" font-size="13">per</text></g><g transform="translate(22.1,110.12) rotate(-90) scale(0.7249,1)" stroke="#000" stroke-width="0.35"><path transform="translate(0.00,0.00) scale(0.006348,-0.006348)" d="M515,0V1237L197,1010V1180L530,1409H696V0Z" stroke-width="55.1"/><text x="7.23" y="0.00" font-size="13">,000</text></g><g transform="translate(22.1,83.24) rotate(-90) scale(0.6539,1)" stroke="#000" stroke-width="0.35"><text x="0.00" y="0.00" font-size="13">person</text></g><g transform="translate(22.1,54.02) rotate(-90) scale(0.6230,1)" stroke="#000" stroke-width="0.35"><text x="0.00" y="0.00" font-size="13">years</text></g><text transform="translate(499.2,147.9) rotate(90) scale(0.692,1)" text-anchor="middle" font-size="13" stroke="#000" stroke-width="0.35">Incidence rate ratio</text></g>
</svg>
</body></html>
